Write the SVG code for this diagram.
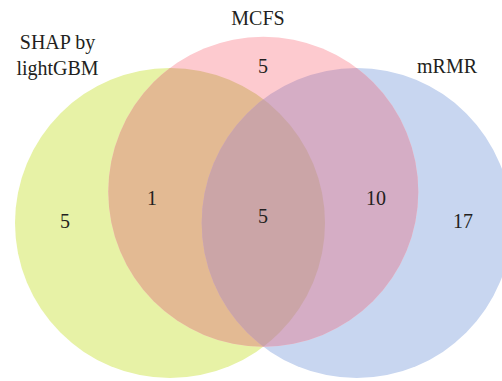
<svg xmlns="http://www.w3.org/2000/svg" width="502" height="381" viewBox="0 0 502 381">
<style>
text{font-family:"Liberation Serif","Times New Roman",serif;font-size:20px;fill:#231f20;text-anchor:middle}
</style>
<defs>
<clipPath id="cL"><circle cx="170" cy="223" r="155"/></clipPath>
<clipPath id="cM"><circle cx="263.3" cy="191.7" r="155"/></clipPath>
<clipPath id="cR"><circle cx="356.7" cy="223" r="155"/></clipPath>
</defs>
<rect width="502" height="381" fill="#fff"/>
<g id="shap"><circle cx="170" cy="223" r="155" fill="#e7f2a6"/></g>
<g id="mrmr"><circle cx="356.7" cy="223" r="155" fill="#c8d6f0"/></g>
<g id="mcfs"><circle cx="263.3" cy="191.7" r="155" fill="#fdcacf"/></g>
<g id="overlaps">
<g clip-path="url(#cL)"><circle cx="263.3" cy="191.7" r="155" fill="#e3ba93"/></g>
<g clip-path="url(#cR)"><circle cx="263.3" cy="191.7" r="155" fill="#d5adc5"/></g>
<g clip-path="url(#cR)"><g clip-path="url(#cM)"><circle cx="170" cy="223" r="155" fill="#cba5a7"/></g></g>
</g>
<g id="labels">
<text x="258" y="25">MCFS</text>
<text x="57.5" y="49">SHAP by</text>
<text x="57.5" y="75">lightGBM</text>
<text x="447" y="73">mRMR</text>
<text x="263" y="73">5</text>
<text x="152" y="205">1</text>
<text x="65" y="228">5</text>
<text x="263" y="223">5</text>
<text x="376" y="205">10</text>
<text x="463" y="228">17</text>
</g>
</svg>
